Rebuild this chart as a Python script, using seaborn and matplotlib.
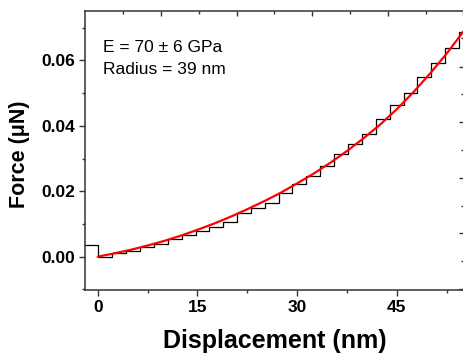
import matplotlib
matplotlib.use("Agg")
import matplotlib.pyplot as plt
import seaborn as sns
import pandas as pd
from matplotlib.ticker import MultipleLocator, FixedLocator, NullFormatter

# ---- data ----
step_x = [-2.0, 0.0, 2.2, 4.26, 6.37, 8.47, 10.58, 12.68, 14.79, 16.79, 18.9,
          21.0, 23.0, 25.1, 27.2, 29.3, 31.3, 33.4, 35.5, 37.6, 39.7, 41.85,
          43.96, 46.07, 48.07, 50.18, 52.28, 54.39, 56.0]
step_force = [0.0036, 0.0, 0.00102, 0.00183, 0.00285, 0.00377, 0.0054, 0.00662,
              0.00784, 0.00917, 0.0107, 0.0132, 0.0148, 0.0165, 0.0194, 0.0221,
              0.0248, 0.0278, 0.0314, 0.0343, 0.0376, 0.0420, 0.0463, 0.0501,
              0.0548, 0.0593, 0.0639, 0.0688, 0.0688]

fit_x = [0, 2.5, 5, 7.5, 10, 12.5, 15, 17.5, 20, 22.5, 25, 27.5, 30, 32.5, 35,
         37.5, 40, 42.5, 45, 47.5, 50, 52.5, 55]
fit_force = [0.0, 0.0010, 0.0021, 0.0034, 0.0048, 0.0064, 0.0082, 0.0101, 0.0122,
             0.0145, 0.0169, 0.0195, 0.0224, 0.0254, 0.0287, 0.0323, 0.0362,
             0.0404, 0.0451, 0.0503, 0.0560, 0.0621, 0.0688]

x_ticks = [0, 15, 30, 45]
y_ticks = [0.00, 0.02, 0.04, 0.06]
top_major = [9.52, 20.95, 32.2, 43.7, 55.0]
top_minor = [3.8, 15.2, 26.5, 37.9, 49.4]
right_major = [0.0580, 0.0412, 0.0240, 0.0071, -0.0099]
right_minor = [0.0667, 0.0496, 0.0326, 0.0155, -0.0013]

annot_lines = ["E = 70 \u00b1 6 GPa", "Radius = 39 nm"]

# ---- plotting ----
sns.set_style("ticks")
plt.rcParams["font.family"] = ["Liberation Sans", "DejaVu Sans"]
plt.rcParams["text.color"] = "black"
plt.rcParams["axes.labelcolor"] = "black"
plt.rcParams["xtick.labelcolor"] = "black"
plt.rcParams["ytick.labelcolor"] = "black"

fig = plt.figure(figsize=(4.63, 3.55), dpi=100)
ax = fig.add_axes([85 / 463, 1 - 290 / 355, 379 / 463, 279 / 355])

steps = pd.DataFrame({"x": step_x, "F": step_force})
fit = pd.DataFrame({"x": fit_x, "F": fit_force})

sns.lineplot(data=steps, x="x", y="F", ax=ax, color="black", lw=0.9,
             drawstyle="steps-post", estimator=None, sort=False)
sns.lineplot(data=fit, x="x", y="F", ax=ax, color="#ff0000", lw=1.6,
             estimator=None, sort=False)

ax.set_xlim(-1.91, 55.1)
ax.set_ylim(-0.0102, 0.0751)

ax.xaxis.set_major_locator(FixedLocator(x_ticks))
ax.xaxis.set_minor_locator(MultipleLocator(7.5))
ax.yaxis.set_major_locator(FixedLocator(y_ticks))
ax.yaxis.set_minor_locator(MultipleLocator(0.01))
ax.set_xticklabels([str(v) for v in x_ticks])
ax.set_yticklabels([f"{v:.2f}" for v in y_ticks])

for s in ax.spines.values():
    s.set_color("#333333")
    s.set_linewidth(1.1)
ax.spines["right"].set_visible(False)

ax.tick_params(which="major", direction="out", length=4, width=1.0,
               color="#333333", labelcolor="black", pad=3, labelsize=12.5)
ax.tick_params(which="minor", direction="out", length=2.5, width=1.0,
               color="#333333")
for lab in ax.get_xticklabels() + ax.get_yticklabels():
    lab.set_fontweight("bold")

ax.set_xlabel("Displacement (nm)", fontsize=18, fontweight="bold", color="black")
ax.set_ylabel("Force (\u03bcN)", fontsize=15.5, fontweight="bold", color="black")
ax.xaxis.set_label_coords(0.5, -0.14)
ax.yaxis.set_label_coords(-0.145, 0.485)

# top axis ticks (inward)
axt = ax.twiny()
axt.set_xlim(ax.get_xlim())
axt.xaxis.set_major_locator(FixedLocator(top_major))
axt.xaxis.set_minor_locator(FixedLocator(top_minor))
axt.xaxis.set_major_formatter(NullFormatter())
axt.tick_params(which="major", direction="in", length=3.5, width=1.0, color="#333333")
axt.tick_params(which="minor", direction="in", length=2, width=1.0, color="#333333")
for s in axt.spines.values():
    s.set_visible(False)

# right axis ticks (inward)
axr = ax.twinx()
axr.set_ylim(ax.get_ylim())
axr.yaxis.set_major_locator(FixedLocator(right_major))
axr.yaxis.set_minor_locator(FixedLocator(right_minor))
axr.yaxis.set_major_formatter(NullFormatter())
axr.tick_params(which="major", direction="in", length=3.5, width=1.0, color="#333333")
axr.tick_params(which="minor", direction="in", length=2, width=1.0, color="#333333")
for s in axr.spines.values():
    s.set_visible(False)

fig.text(103 / 463, 1 - 52 / 355, annot_lines[0], fontsize=12.5, va="baseline",
         ha="left", color="black")
fig.text(103 / 463, 1 - 74 / 355, annot_lines[1], fontsize=12.5, va="baseline",
         ha="left", color="black")

fig.savefig("out.png", dpi=100)
